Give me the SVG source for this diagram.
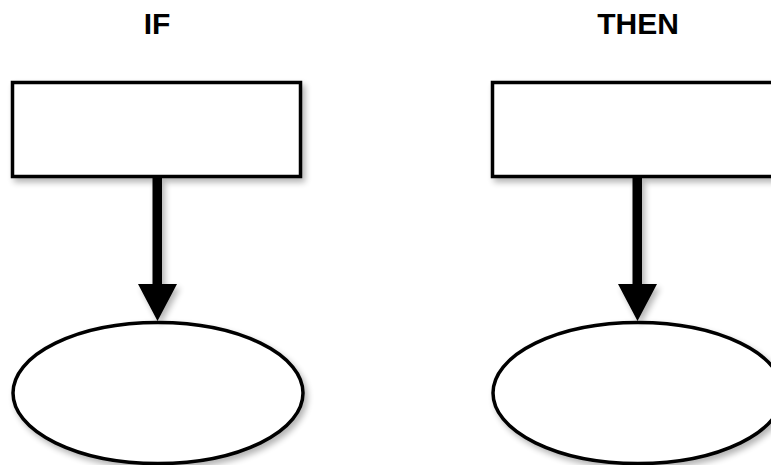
<svg xmlns="http://www.w3.org/2000/svg" width="771" height="465" viewBox="0 0 771 465">
<defs>
<filter id="sh" x="-10%" y="-10%" width="130%" height="130%">
<feGaussianBlur in="SourceAlpha" stdDeviation="3"/>
<feOffset dx="3" dy="4" result="b"/>
<feComponentTransfer><feFuncA type="linear" slope="0.3"/></feComponentTransfer>
<feMerge><feMergeNode/><feMergeNode in="SourceGraphic"/></feMerge>
</filter>
<style>
.box{fill:#fff;stroke:#000;stroke-width:3.5}
.ttl{font-family:"Liberation Sans",Arial,sans-serif;font-weight:bold;font-size:30px;fill:#000;text-anchor:middle}
.arr{fill:#000}
</style>
</defs>
<rect width="771" height="465" fill="#fff"/>
<text class="ttl" x="157" y="34">IF</text>
<text class="ttl" x="638" y="34">THEN</text>
<g id="if-rect" filter="url(#sh)"><rect class="box" x="12.5" y="82.5" width="288" height="94"/></g>
<g id="then-rect" filter="url(#sh)"><rect class="box" x="492.5" y="82.5" width="300" height="94"/></g>
<g id="if-ellipse" filter="url(#sh)"><ellipse class="box" cx="158" cy="393" rx="145" ry="70.5"/></g>
<g id="then-ellipse" filter="url(#sh)"><ellipse class="box" cx="638" cy="393" rx="145" ry="70.5"/></g>
<g id="connectors" filter="url(#sh)">
<path class="arr" d="M152.5,178 H162 V284 H177 L157.5,321 L138,284 H152.5 Z"/>
<path class="arr" d="M632.5,178 H642 V284 H657 L637.5,321 L618,284 H632.5 Z"/>
</g>
</svg>
